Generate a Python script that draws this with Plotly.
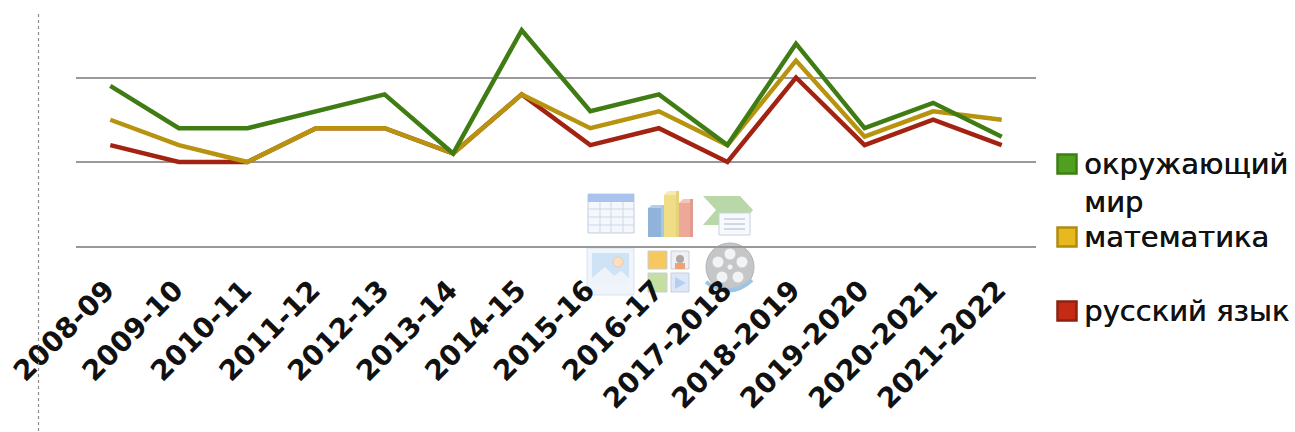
import plotly.graph_objects as go

categories = ["2008-09", "2009-10", "2010-11", "2011-12", "2012-13", "2013-14", "2014-15",
              "2015-16", "2016-17", "2017-2018", "2018-2019", "2019-2020", "2020-2021", "2021-2022"]
russian = [4.2, 4.0, 4.0, 4.4, 4.4, 4.1, 4.8, 4.2, 4.4, 4.0, 5.0, 4.2, 4.5, 4.2]
maths = [4.5, 4.2, 4.0, 4.4, 4.4, 4.1, 4.8, 4.4, 4.6, 4.2, 5.2, 4.3, 4.6, 4.5]
world = [4.9, 4.4, 4.4, 4.6, 4.8, 4.1, 5.56, 4.6, 4.8, 4.2, 5.4, 4.4, 4.7, 4.3]
grid_ticks = [3, 4, 5]
legend_names = ["окружающий<br>мир", "математика", "русский язык"]

W, H = 1295, 432
L, R, T, B = 76, 1036, 15, 262


def px(x):
    return (x - L) / (R - L)


def py(y):
    return (B - y) / (B - T)


shapes = []


def rect(x0, y0, x1, y1, fill, line=None, lw=1):
    shapes.append(dict(type="rect", xref="paper", yref="paper", x0=px(x0), x1=px(x1), y0=py(y0), y1=py(y1),
                       fillcolor=fill, line=dict(color=line or fill, width=lw if line else 0), layer="below"))


def seg(x0, y0, x1, y1, color, lw=1, dash=None, layer="below"):
    shapes.append(dict(type="line", xref="paper", yref="paper", x0=px(x0), x1=px(x1), y0=py(y0), y1=py(y1),
                       line=dict(color=color, width=lw, dash=dash), layer=layer))


def circle(cx, cy, r, fill, line=None):
    shapes.append(dict(type="circle", xref="paper", yref="paper", x0=px(cx - r), x1=px(cx + r), y0=py(cy + r), y1=py(cy - r),
                       fillcolor=fill, line=dict(color=line or fill, width=1 if line else 0), layer="below"))


def poly(points, fill):
    d = "M " + " L ".join(f"{px(x):.5f},{py(y):.5f}" for x, y in points) + " Z"
    shapes.append(dict(type="path", xref="paper", yref="paper", path=d, fillcolor=fill,
                       line=dict(width=0), layer="below"))


# dotted axis rule on the left
seg(38.5, 14, 38.5, 432, "#8c8c8c", 1.2, "dot", "above")

# placeholder icons: table
rect(588, 194, 634, 233, "#f4f7fb", "#c3cde0", 1)
rect(588, 194, 634, 202, "#a9c3ec")
for x in (600, 611, 623):
    seg(x, 202, x, 233, "#cfd7e6", 1)
for y in (209, 217, 225):
    seg(588, y, 634, y, "#cfd7e6", 1)
# bar chart
rect(648, 208, 661, 237, "#8fb3da")
poly([(648, 208), (652, 205), (665, 205), (661, 208)], "#b5cfe8")
rect(661, 205, 665, 237, "#a9c6e2")
rect(664, 195, 676, 237, "#f0dd88")
poly([(664, 195), (668, 191), (679, 191), (676, 195)], "#f6eab0")
rect(676, 191, 679, 237, "#e6d27a")
rect(679, 203, 690, 237, "#eca898")
poly([(679, 203), (683, 199), (693, 199), (690, 203)], "#f3c6ba")
rect(690, 199, 693, 237, "#e29a8a")
# smart art
poly([(703, 196), (740, 196), (753, 210), (740, 225), (703, 225), (716, 210)], "#b9d8a8")
rect(719, 213, 750, 235, "#f7f9fc", "#c7d2e2", 1)
for y in (219, 224, 229):
    seg(724, y, 745, y, "#a8b8d2", 1)
# picture
rect(587, 248, 634, 295, "#f0f4fb", "#dbe3f1", 1)
rect(592, 253, 629, 283, "#cfe3f6")
circle(618, 262, 5, "#fbe0c4", "#f5c89a")
poly([(592, 283), (592, 278), (605, 267), (614, 276), (621, 271), (629, 278), (629, 283)], "#eef3fa")
# clip art
rect(648, 251, 667, 269, "#f6c860", "#c9ced8", 1)
rect(671, 251, 689, 269, "#eef0f4", "#c9ced8", 1)
circle(680, 259, 4, "#b0a8a0")
rect(675, 263, 685, 269, "#eba276")
rect(648, 273, 667, 292, "#c5dfa0", "#c9ced8", 1)
rect(671, 273, 689, 292, "#dce8f8", "#c9ced8", 1)
poly([(675, 277), (686, 283), (675, 289)], "#b8cdf0")
# film reel
circle(730, 267, 24, "#c4c6c8", "#b0b2b4")
for dx, dy in ((0, -13), (12, -5), (8, 10), (-8, 10), (-12, -5)):
    circle(730 + dx, 267 + dy, 5.5, "#f2f3f4")
circle(730, 267, 2.5, "#f2f3f4")
shapes.append(dict(type="path", xref="paper", yref="paper",
                   path=f"M {px(706):.5f},{py(282):.5f} Q {px(730):.5f},{py(300):.5f} {px(752):.5f},{py(280):.5f}",
                   line=dict(color="#9cc4e4", width=4), layer="below"))

# legend swatches
legend_colors = [("#4fa01f", "#3f7d14", 164), ("#e6b91e", "#b08c10", 237), ("#c42a14", "#8e2010", 311)]
for fill, edge, yc in legend_colors:
    shapes.append(dict(type="rect", xref="paper", yref="paper", x0=px(1057.5), x1=px(1076.5),
                       y0=py(yc + 9.5), y1=py(yc - 9.5), fillcolor=fill, line=dict(color=edge, width=2.5)))

annotations = []
legend_y = [183, 237, 311]
for name, yc in zip(legend_names, legend_y):
    annotations.append(dict(text=name, xref="paper", yref="paper", x=px(1082), y=py(yc), xanchor="left", yanchor="middle",
                            align="left", showarrow=False,
                            font=dict(family="DejaVu Sans", size=29, color="#111111", shadow="0.5px 0 0 #111111")))

fig = go.Figure()
fig.add_trace(go.Scatter(x=categories, y=russian, mode="lines", name="русский язык", line=dict(color="#a32312", width=4.5)))
fig.add_trace(go.Scatter(x=categories, y=maths, mode="lines", name="математика", line=dict(color="#b8930f", width=4.5)))
fig.add_trace(go.Scatter(x=categories, y=world, mode="lines", name="окружающий мир", line=dict(color="#3f7d14", width=4.5)))

fig.update_layout(
    width=W, height=H, autosize=False,
    margin=dict(l=L, r=W - R, t=T, b=H - B, pad=0),
    paper_bgcolor="white", plot_bgcolor="white",
    showlegend=False, shapes=shapes, annotations=annotations,
    xaxis=dict(type="category", range=[-0.5, 13.5], tickangle=-45, showgrid=False, zeroline=False, showline=False,
               ticks="", automargin=False, ticklabelstandoff=5, ticklabelshift=-4,
               tickfont=dict(family="DejaVu Sans", size=28, weight="bold", color="#111111")),
    yaxis=dict(range=[5 - (B - 77.5) / 84.5, 5 + (77.5 - T) / 84.5], tickvals=grid_ticks, showticklabels=False, showgrid=True,
               gridcolor="#999999", gridwidth=1.8, zeroline=False, showline=False, ticks="", automargin=False),
)
fig.write_html("out.html", config=dict(displayModeBar=False),
               post_script="document.body.style.margin='0';document.documentElement.style.overflow='hidden';")
